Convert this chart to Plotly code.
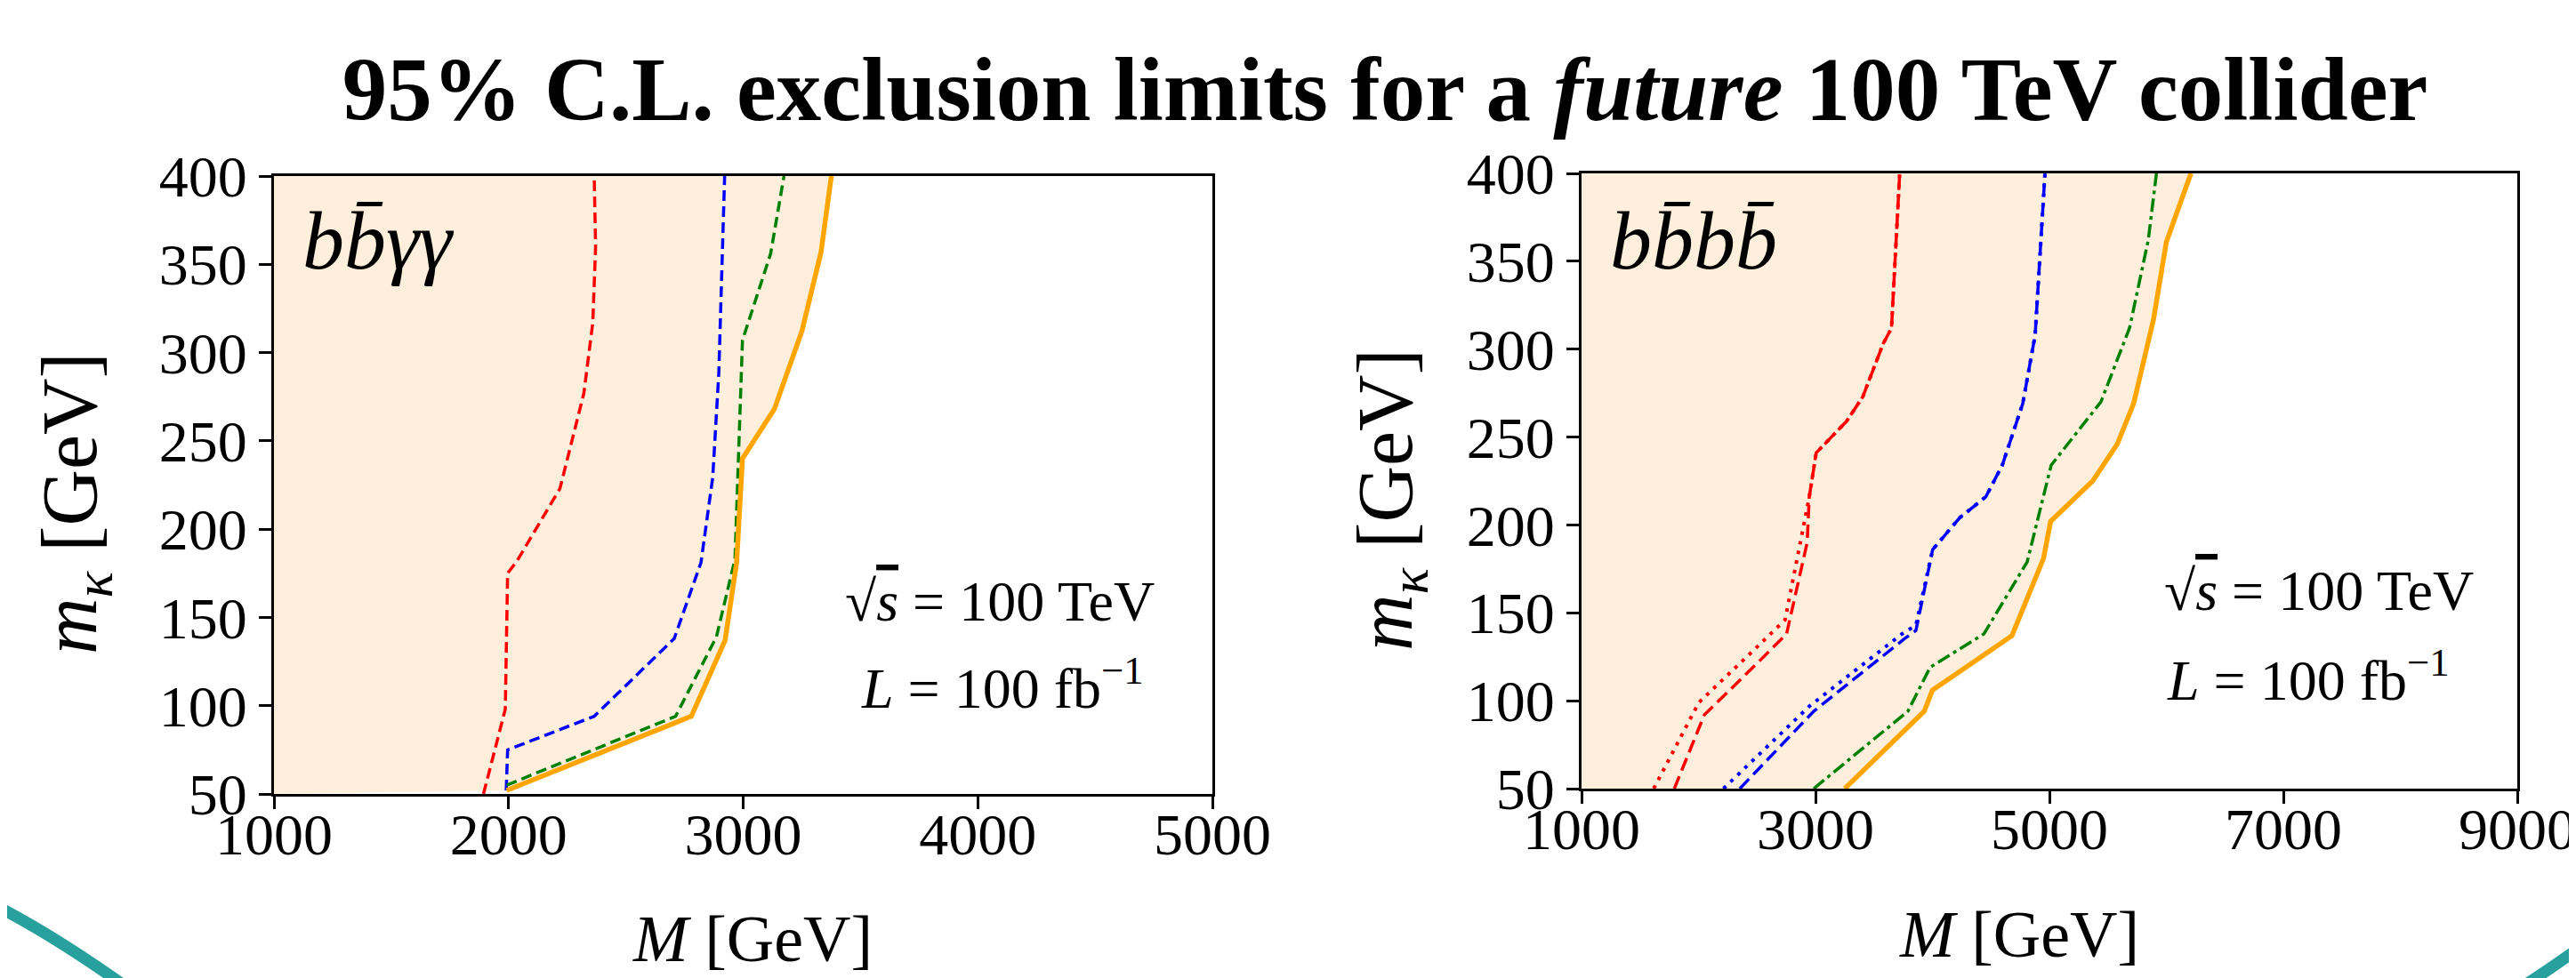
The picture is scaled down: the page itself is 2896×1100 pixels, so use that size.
import plotly.graph_objects as go

# ---------------- data ----------------
# left panel: b bbar gamma gamma
L_x_range = [1000, 5000]
L_y_range = [50, 400]
L_xticks = [1000, 2000, 3000, 4000, 5000]
yticks = [50, 100, 150, 200, 250, 300, 350, 400]

L_orange_M = [1992, 2779, 2923, 2972, 2997, 3133, 3250, 3332, 3376]
L_orange_m = [52, 94, 137, 181, 240, 268, 312, 357, 400]

L_green_M = [1992, 2712, 2886, 2965, 2997, 3117, 3174]
L_green_m = [55, 94, 139, 183, 307, 356, 400]

L_blue_M = [1990, 1996, 2365, 2706, 2820, 2870, 2896, 2921]
L_blue_m = [52, 75, 94, 138, 181, 229, 288, 400]

L_red_M = [1893, 1986, 1996, 2036, 2219, 2321, 2359, 2371, 2365]
L_red_m = [50, 98, 175, 182, 223, 277, 317, 360, 400]

# right panel: b bbar b bbar
R_x_range = [1000, 9000]
R_y_range = [50, 400]
R_xticks = [1000, 3000, 5000, 7000, 9000]

R_orange_M = [3250, 3930, 4000, 4680, 4950, 5010, 5370, 5580, 5720, 5890, 6000, 6210]
R_orange_m = [50, 94, 106, 137, 181, 202, 225, 246, 269, 317, 361, 400]

R_green_M = [2985, 3790, 3980, 4440, 4810, 4950, 5015, 5440, 5685, 5845, 5915]
R_green_m = [50, 94, 119, 138, 179, 216, 234, 270, 312, 362, 400]

R_blue_M = [2353, 2985, 3756, 3859, 4002, 4232, 4456, 4597, 4772, 4878, 4962]
R_blue_m = [50, 94, 135, 140, 186, 204, 216, 234, 269, 308, 400]
R_blue_dot_M = [2213, 2950, 3740, 3859, 4002, 4232, 4456, 4597, 4772, 4878, 4962]
R_blue_dot_m = [50, 97, 138, 143, 186, 204, 216, 234, 269, 308, 400]

R_red_M = [1793, 2050, 2497, 2753, 2929, 2947, 3006, 3266, 3405, 3578, 3650, 3720]
R_red_m = [50, 92, 121, 138, 190, 216, 241, 259, 273, 303, 312, 400]
R_red_dot_M = [1617, 2003, 2460, 2740, 2900, 2947, 3006, 3266, 3405, 3578, 3650, 3720]
R_red_dot_m = [50, 99, 128, 146, 200, 216, 241, 259, 273, 303, 312, 400]

# ---------------- figure ----------------
W, H = 2896, 1100
FONT = "Liberation Serif"
FILL = "#FDEFDC"
ORANGE, GREEN, BLUE, RED = "#FFA500", "#008000", "#0000FF", "#FF0000"

fig = go.Figure()


def fill_trace(Ms, ms, xr, yr, xa, ya):
    xs = [xr[0]] + Ms + [xr[0]]
    ys = [yr[0]] + ms + [yr[1]]
    return go.Scatter(x=xs, y=ys, fill="toself", fillcolor=FILL, mode="lines",
                      line=dict(width=0, color=FILL), hoverinfo="skip",
                      showlegend=False, xaxis=xa, yaxis=ya)


def line(Ms, ms, color, width, dash, xa, ya):
    return go.Scatter(x=Ms, y=ms, mode="lines",
                      line=dict(color=color, width=width, dash=dash),
                      showlegend=False, xaxis=xa, yaxis=ya)


# left
fig.add_trace(fill_trace(L_orange_M, L_orange_m, L_x_range, L_y_range, "x", "y"))
fig.add_trace(line(L_red_M, L_red_m, RED, 3.5, "12px,6px", "x", "y"))
fig.add_trace(line(L_blue_M, L_blue_m, BLUE, 3.5, "12px,6px", "x", "y"))
fig.add_trace(line(L_green_M, L_green_m, GREEN, 3.5, "12px,6px", "x", "y"))
fig.add_trace(line(L_orange_M, L_orange_m, ORANGE, 5.5, "solid", "x", "y"))

# right
fig.add_trace(fill_trace(R_orange_M, R_orange_m, R_x_range, R_y_range, "x2", "y2"))
fig.add_trace(line(R_red_dot_M, R_red_dot_m, RED, 4, "4px,7px", "x2", "y2"))
fig.add_trace(line(R_red_M, R_red_m, RED, 3.5, "15px,7px", "x2", "y2"))
fig.add_trace(line(R_blue_dot_M, R_blue_dot_m, BLUE, 4, "4px,7px", "x2", "y2"))
fig.add_trace(line(R_blue_M, R_blue_m, BLUE, 3.5, "15px,7px", "x2", "y2"))
fig.add_trace(line(R_green_M, R_green_m, GREEN, 3.5, "15px,5px,4px,5px", "x2", "y2"))
fig.add_trace(line(R_orange_M, R_orange_m, ORANGE, 5.5, "solid", "x2", "y2"))


def px_x(p):
    return p / W


def px_y(p):
    return 1 - p / H


axis_common = dict(showline=True, mirror=True, linewidth=3, linecolor="black",
                   ticks="outside", ticklen=14, tickwidth=3, tickcolor="black",
                   showgrid=False, zeroline=False, automargin=False,
                   tickfont=dict(family=FONT, size=66, color="black"))

fig.update_layout(
    width=W, height=H,
    margin=dict(l=0, r=0, t=0, b=0),
    paper_bgcolor="white", plot_bgcolor="white",
    showlegend=False,
    title=dict(text="<b>95% C.L. exclusion limits for a <i>future</i> 100 TeV collider</b>",
               x=px_x(1549), y=px_y(92), xanchor="center", yanchor="middle",
               xref="paper", yref="container",
               font=dict(family=FONT, size=101, color="black")),
    xaxis=dict(domain=[px_x(300), px_x(1355)], range=L_x_range, tickvals=L_xticks,
               anchor="y", ticklabelstandoff=-28, **axis_common),
    yaxis=dict(domain=[px_y(885), px_y(190)], range=L_y_range, tickvals=yticks,
               anchor="x", **axis_common),
    xaxis2=dict(domain=[px_x(1770), px_x(2822)], range=R_x_range, tickvals=R_xticks,
                anchor="y2", ticklabelstandoff=-28, **axis_common),
    yaxis2=dict(domain=[px_y(879), px_y(187)], range=R_y_range, tickvals=yticks,
                anchor="x2", **axis_common),
)

ann = []
# axis titles
for xc, yc in [(838, 1048), (2262, 1043)]:
    ann.append(dict(text="<i>M</i> [GeV]", x=px_x(xc), y=px_y(yc), xref="paper", yref="paper",
                    xanchor="center", yanchor="middle", showarrow=False,
                    font=dict(family=FONT, size=74, color="black")))
for xc, yc in [(76, 558), (1555, 554)]:
    ann.append(dict(text="<i>m</i><sub><i>κ</i></sub> [GeV]", x=px_x(xc), y=px_y(yc),
                    xref="paper", yref="paper", xanchor="center", yanchor="middle",
                    textangle=-90, showarrow=False,
                    font=dict(family=FONT, size=88, color="black")))
# channel labels
ann.append(dict(text="<i>bb̄γγ</i>", x=px_x(330), y=px_y(262), xref="paper", yref="paper",
                xanchor="left", yanchor="middle", showarrow=False,
                font=dict(family=FONT, size=94, color="black")))
ann.append(dict(text="<i>bb̄bb̄</i>", x=px_x(1800), y=px_y(262), xref="paper", yref="paper",
                xanchor="left", yanchor="middle", showarrow=False,
                font=dict(family=FONT, size=94, color="black")))
# energy / luminosity
for (xs, ys), (xl, yl) in [((940, 668), (958, 761)), ((2423, 656), (2426, 752))]:
    ann.append(dict(text="√<span style='text-decoration:overline'><i>s</i></span> = 100 TeV",
                    x=px_x(xs), y=px_y(ys), xref="paper", yref="paper",
                    xanchor="left", yanchor="middle", showarrow=False,
                    font=dict(family=FONT, size=64, color="black")))
    ann.append(dict(text="<i>L</i> = 100 fb<sup>−1</sup>",
                    x=px_x(xl), y=px_y(yl), xref="paper", yref="paper",
                    xanchor="left", yanchor="middle", showarrow=False,
                    font=dict(family=FONT, size=64, color="black")))
fig.update_layout(annotations=ann)

# decorative teal arcs from the slide background
TEAL = "#27A09E"


def arc(p0, c, p2):
    return "M {:.5f},{:.5f} Q {:.5f},{:.5f} {:.5f},{:.5f}".format(
        px_x(p0[0]), px_y(p0[1]), px_x(c[0]), px_y(c[1]), px_x(p2[0]), px_y(p2[1]))


fig.add_shape(type="path", path=arc((-20, 1007), (52, 1043), (145, 1110)),
              xref="paper", yref="paper", line=dict(color=TEAL, width=13))
fig.add_shape(type="path", path=arc((2815, 1110), (2858, 1083), (2910, 1045)),
              xref="paper", yref="paper", line=dict(color=TEAL, width=13))

fig.write_html("out.html")
